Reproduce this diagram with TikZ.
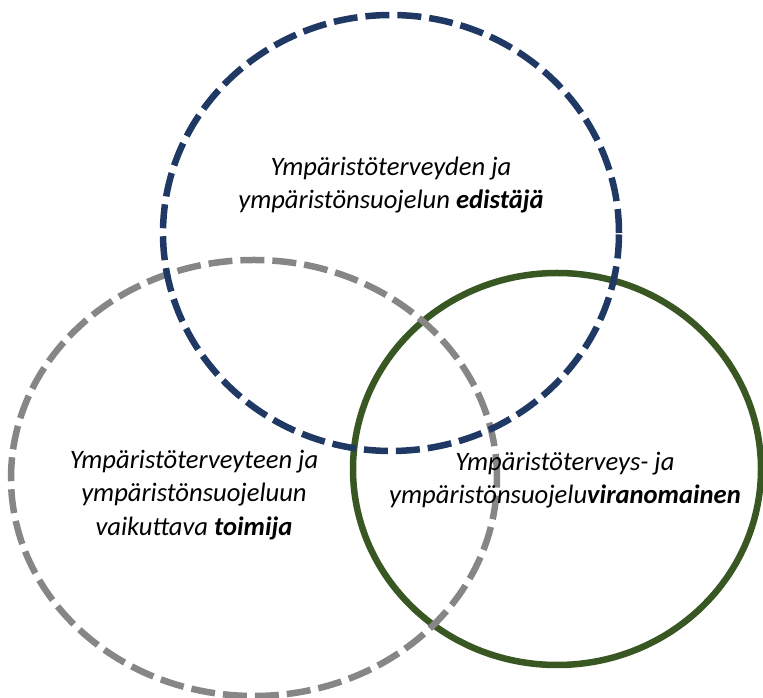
\documentclass[tikz,border=0pt]{standalone}
\usepackage{fontspec}
\setmainfont{Carlito}
\usetikzlibrary{shapes.geometric}
\definecolor{cnavy}{HTML}{203864}
\definecolor{cgreen}{HTML}{385723}
\definecolor{cgray}{HTML}{868686}

\begin{document}
\begin{tikzpicture}[
  x=1pt,y=1pt,
  role/.style={ellipse,draw,line width=6.5pt,inner sep=0pt},
  dashrole/.style={role,dash pattern=on 24pt off 8pt},
  rtext/.style={font=\fontsize{26.6}{33.5}\selectfont\itshape,align=center,inner sep=0pt}
]
  \useasboundingbox (0,0) rectangle (763,698);

  % Circles
  \node[role,draw=cgreen,minimum width=408pt,minimum height=392pt] (viran) at (557,229) {};
  \node[dashrole,draw=cgray,minimum width=486pt,minimum height=436pt] (toimi) at (254,220) {};
  \node[dashrole,draw=cnavy,minimum width=456pt,minimum height=436pt] (edist) at (391,465) {};

  % Labels
  \node[rtext] (tedist) at (391,513) {Ympäristöterveyden ja\\ympäristönsuojelun \textbf{edistäjä}};
  \node[rtext] (ttoimi) at (194,203) {Ympäristöterveyteen ja\\ympäristönsuojeluun\\vaikuttava \textbf{toimija}};
  \node[rtext] (tviran) at (565,218) {Ympäristöterveys- ja\\ympäristönsuojelu\textbf{viranomainen}};
\end{tikzpicture}
\end{document}
